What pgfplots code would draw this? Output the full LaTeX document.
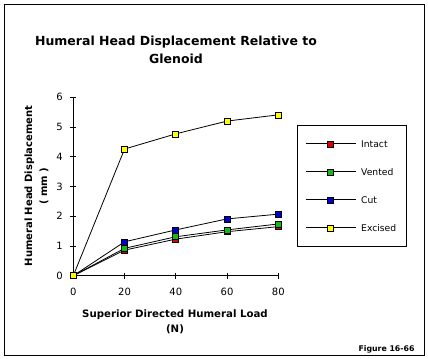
\documentclass[border=0pt]{standalone}
\usepackage{pgfplots}
\pgfplotsset{compat=1.18}
\usepackage{fontspec}
\setmainfont{DejaVu Sans}
\definecolor{cIntact}{RGB}{221,0,0}
\definecolor{cVented}{RGB}{17,187,17}
\definecolor{cCut}{RGB}{0,0,204}
\definecolor{cExcised}{RGB}{255,255,0}
\begin{document}
\begin{tikzpicture}
\useasboundingbox (0,0) rectangle (428bp,359bp);
\draw[line width=1bp] (4.5bp,3.5bp) rectangle (424.5bp,354.5bp);
\begin{axis}[
  at={(73.3bp,83.3bp)}, anchor=origin,
  width=205bp, height=178.4bp, scale only axis,
  xmin=0, xmax=80, ymin=0, ymax=6,
  axis lines*=left,
  axis line style={line width=0.8bp},
  xtick={0,20,40,60,80}, ytick={0,1,2,3,4,5,6},
  tick align=center, major tick length=6bp,
  tick style={line width=0.8bp, black},
  ticklabel style={font=\fontsize{10bp}{12bp}\selectfont},
  /pgf/number format/assume math mode=true,
  xticklabel style={yshift=-6bp},
  yticklabel style={xshift=-4bp},
  clip=false,
  every axis plot/.append style={line width=0.8bp, black, mark=square*, mark size=3bp},
  legend image code/.code={\draw[mark repeat=2,mark phase=2] plot coordinates {(0bp,0bp) (25bp,0bp) (50bp,0bp)};},
  legend style={at={(1.0912,0.8447)}, anchor=north west, draw=black, line width=0.8bp,
    font=\fontsize{9.2bp}{11bp}\selectfont, inner xsep=8bp, inner ysep=13bp, row sep=17bp, column sep=3bp,
    nodes={text height=7bp, text depth=0bp}},
  legend cell align=left,
]
\addplot[mark options={fill=cIntact, draw=black, line width=0.6bp}] coordinates {(0,0) (20,0.86) (40,1.23) (60,1.48) (80,1.65)};
\addlegendentry{Intact}
\addplot[mark options={fill=cVented, draw=black, line width=0.6bp}] coordinates {(0,0) (20,0.92) (40,1.31) (60,1.54) (80,1.74)};
\addlegendentry{Vented}
\addplot[mark options={fill=cCut, draw=black, line width=0.6bp}] coordinates {(0,0) (20,1.14) (40,1.54) (60,1.91) (80,2.07)};
\addlegendentry{Cut}
\addplot[mark options={fill=cExcised, draw=black, line width=0.6bp}] coordinates {(0,0) (20,4.26) (40,4.77) (60,5.20) (80,5.41)};
\addlegendentry{Excised}
\end{axis}
\node[font=\bfseries\fontsize{12.5bp}{18bp}\selectfont, align=center] at (176bp,309bp) {Humeral Head Displacement Relative to\\Glenoid};
\node[font=\bfseries\fontsize{10bp}{15bp}\selectfont, align=center, rotate=90] at (36.5bp,173bp) {Humeral Head Displacement\\( mm )};
\node[font=\bfseries\fontsize{10.2bp}{15bp}\selectfont, align=center] at (175bp,37bp) {Superior Directed Humeral Load\\(N)};
\node[font=\bfseries\fontsize{7.8bp}{10bp}\selectfont, anchor=east] at (418bp,10bp) {Figure 16-66};
\end{tikzpicture}
\end{document}
